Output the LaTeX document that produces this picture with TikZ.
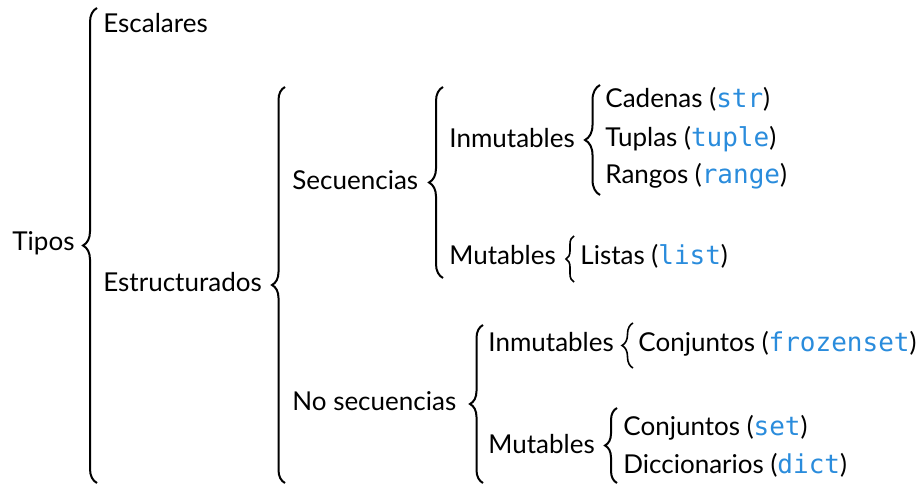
\documentclass[tikz,border=0pt]{standalone}
\usepackage{fontspec}
\setmainfont{Lato}
\setmonofont{DejaVu Sans Mono}
\usetikzlibrary{decorations.pathreplacing}
\definecolor{codeblue}{HTML}{2A8CDC}
\newcommand{\code}[1]{\textcolor{codeblue}{\texttt{#1}}}
\tikzset{
  txt/.style={anchor=base west, inner sep=0pt},
  brc/.style={decorate, decoration={brace, amplitude=#1}, line width=1pt}
}

\begin{document}
\begin{tikzpicture}[x=0.5pt, y=-0.5pt, font=\fontsize{13}{16}\selectfont]
        \useasboundingbox (0,0) rectangle (919,485);
        %root
        \node[txt](tipos) at (12,251){Tipos};
        \node[txt](escalares) at (103,33){Escalares};
        \node[txt](estruct) at (103,292){Estructurados};
        \coordinate (b1t) at (97,8);
        \coordinate (b1b) at (97,483);
        \draw[brc=7pt] (b1b) -- (b1t);

        %secuencias
        \node[txt](secu) at (292,190){Secuencias};
        \node[txt](nosecu) at (292,410){No secuencias};
        \coordinate (b2t) at (285,87);
        \coordinate (b2b) at (285,483);
        \draw[brc=6.5pt] (b2b) -- (b2t);

        \node[txt](inmut1) at (449,148){Inmutables};
        \node[txt](mut1) at (449,265){Mutables};
        \coordinate (b3t) at (443,87);
        \coordinate (b3b) at (443,278);
        \draw[brc=7pt] (b3b) -- (b3t);

        \node[txt](cadenas) at (605,108){Cadenas (\code{str})};
        \node[txt](tuplas) at (605,147){Tuplas (\code{tuple})};
        \node[txt](rangos) at (605,184){Rangos (\code{range})};
        \coordinate (b4t) at (600,85);
        \coordinate (b4b) at (600,195);
        \draw[brc=7.5pt] (b4b) -- (b4t);

        \node[txt](listas) at (580,265){Listas (\code{list})};
        \coordinate (b5t) at (574,236);
        \coordinate (b5b) at (574,282);
        \draw[brc=4pt, line width=0.8pt] (b5b) -- (b5t);

        %no secuencias
        \node[txt](inmut2) at (488,352){Inmutables};
        \node[txt](mut2) at (488,453){Mutables};
        \coordinate (b6t) at (483,325);
        \coordinate (b6b) at (483,483);
        \draw[brc=6.5pt] (b6b) -- (b6t);

        \node[txt](frozen) at (638,352){Conjuntos (\code{frozenset})};
        \coordinate (b7t) at (633,323);
        \coordinate (b7b) at (633,368);
        \draw[brc=5.5pt, line width=0.8pt] (b7b) -- (b7t);

        \node[txt](conj) at (623,435){Conjuntos (\code{set})};
        \node[txt](dicc) at (623,473){Diccionarios (\code{dict})};
        \coordinate (b8t) at (617,408);
        \coordinate (b8b) at (617,483);
        \draw[brc=6pt] (b8b) -- (b8t);
\end{tikzpicture}
\end{document}
